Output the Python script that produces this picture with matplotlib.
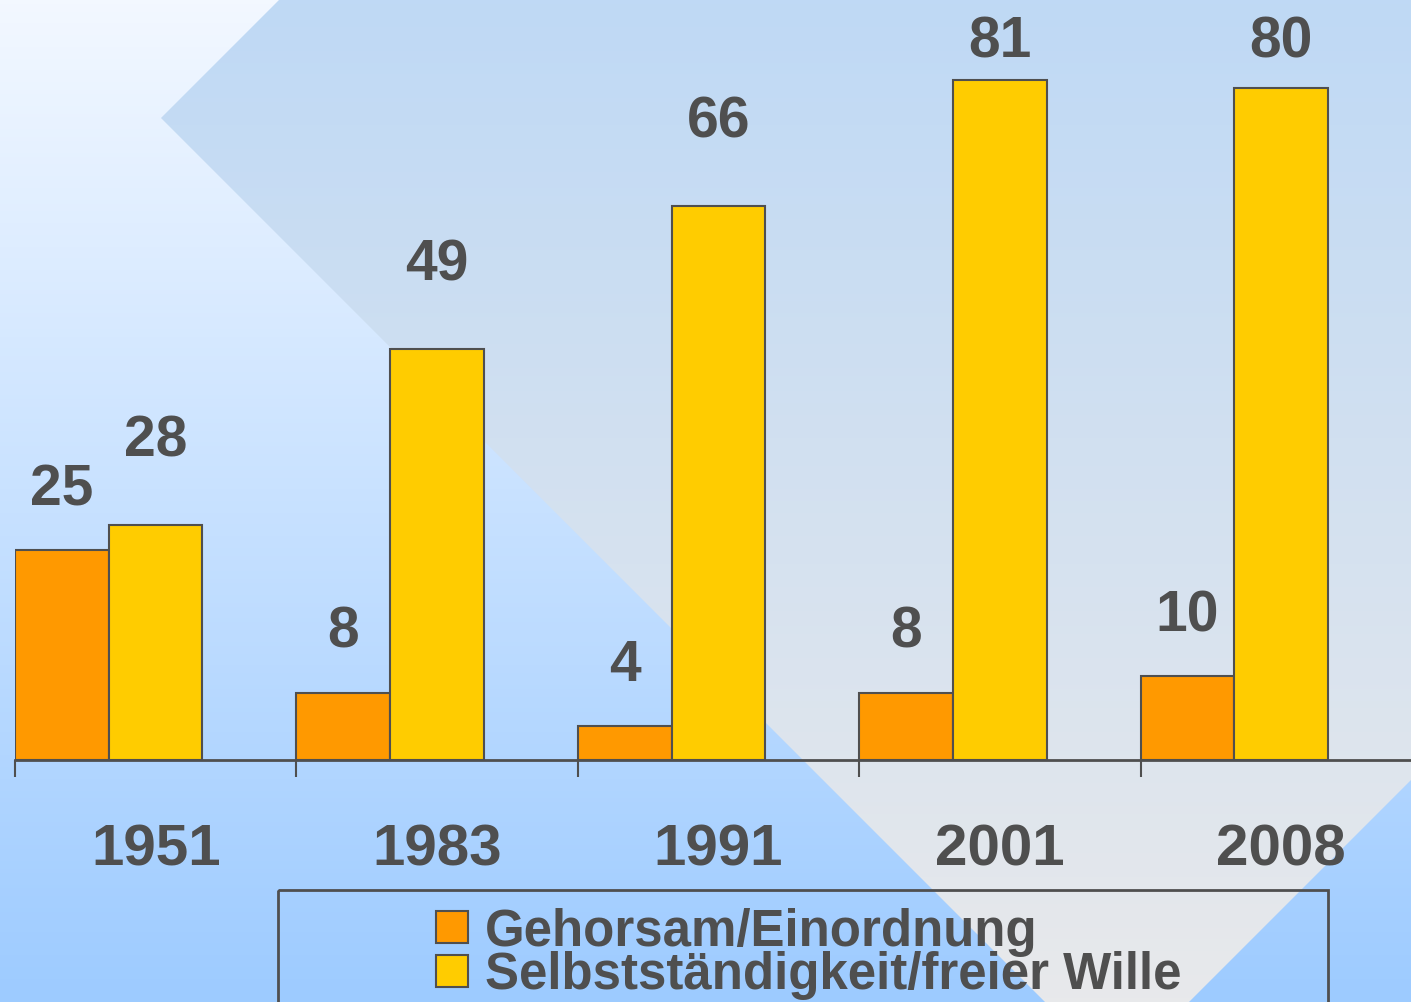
#
# Imports
#
import numpy as np
import matplotlib
matplotlib.use("Agg")
import matplotlib.pyplot as plt
from matplotlib.patches import Polygon, Rectangle

#
# Data
#
years = ["1951", "1983", "1991", "2001", "2008"]
gehorsam = [25, 8, 4, 8, 10]
selbst = [28, 49, 66, 81, 80]
series_names = ["Gehorsam/Einordnung", "Selbstständigkeit/freier Wille"]

#
# Style
#
ORANGE = "#FF9900"
YELLOW = "#FFCC00"
DARK = "#4F4F4F"
FONT = "Liberation Sans"

W, H = 1411, 1002
PX_PER_UNIT = 8.395        # pixels per percent on the value axis
CAT_PX = 281.4             # pixels per category
BASE_PX = 760              # baseline, pixels from the top


def vgrad(top, bottom, n=256):
    t = np.linspace(0.0, 1.0, n)[:, None]
    top = np.array(top) / 255.0
    bottom = np.array(bottom) / 255.0
    img = top[None, :] * (1 - t) + bottom[None, :] * t
    return img[:, None, :]


#
# Figure + background
#
fig = plt.figure(figsize=(W / 100, H / 100), dpi=100)

bg = fig.add_axes([0, 0, 1, 1])
bg.set_xlim(0, W)
bg.set_ylim(H, 0)
bg.axis("off")
bg.imshow(vgrad((243, 248, 255), (157, 203, 255)), extent=(0, W, H, 0), aspect="auto", zorder=0)

# chevron overlay
chevron = Polygon([(279, 0), (W, 0), (W, 780), (1189, H), (1045, H), (161, 118)],
                  closed=True, facecolor="none", edgecolor="none", transform=bg.transData)
bg.add_patch(chevron)
im = bg.imshow(vgrad((191, 217, 245), (232, 233, 235)), extent=(0, W, H, 0), aspect="auto", zorder=1)
im.set_clip_path(chevron)

#
# Bars
#
ax = fig.add_axes([15 / W, (H - BASE_PX) / H, 5 * CAT_PX / W, BASE_PX / H])
ax.patch.set_alpha(0)
ax.set_xlim(0, 5)
ax.set_ylim(0, BASE_PX / PX_PER_UNIT)

x = np.arange(len(years))
bw = 0.333
ax.bar(x, gehorsam, width=bw, align="edge", color=ORANGE, edgecolor=DARK, linewidth=1.5, zorder=3)
ax.bar(x + bw, selbst, width=bw, align="edge", color=YELLOW, edgecolor=DARK, linewidth=1.5, zorder=3)

for s in ["top", "left", "right"]:
    ax.spines[s].set_visible(False)
ax.spines["bottom"].set_color(DARK)
ax.spines["bottom"].set_linewidth(2)
ax.set_yticks([])
ax.set_xticks(np.arange(len(years) + 1))
ax.set_xticklabels([])
ax.tick_params(axis="x", length=12, width=1.5, color=DARK, direction="out")

# value labels
top_cap = (BASE_PX - 57) / PX_PER_UNIT
for i in range(len(years)):
    y1 = min(gehorsam[i] + 45 / PX_PER_UNIT, top_cap)
    y2 = min(selbst[i] + 68 / PX_PER_UNIT, top_cap)
    ax.text(x[i] + bw / 2, y1, str(gehorsam[i]), ha="center", va="baseline",
            fontsize=41, fontweight="bold", color=DARK, family=FONT, zorder=4)
    ax.text(x[i] + 1.5 * bw, y2, str(selbst[i]), ha="center", va="baseline",
            fontsize=41, fontweight="bold", color=DARK, family=FONT, zorder=4)

# category labels
for i, yr in enumerate(years):
    ax.text(x[i] + 0.5, -105 / PX_PER_UNIT, yr, ha="center", va="baseline",
            fontsize=42, fontweight="bold", color=DARK, family=FONT, clip_on=False)

#
# Legend (box runs off the bottom edge)
#
fg = fig.add_axes([0, 0, 1, 1])
fg.set_xlim(0, W)
fg.set_ylim(H, 0)
fg.axis("off")
fg.patch.set_alpha(0)
fg.add_patch(Rectangle((278, 890), 1050, 160, facecolor="none", edgecolor=DARK, linewidth=2))
for k, (name, col) in enumerate(zip(series_names, [ORANGE, YELLOW])):
    top = 911 + k * 44
    fg.add_patch(Rectangle((436, top), 32, 32, facecolor=col, edgecolor=DARK, linewidth=1.5))
    fg.text(485, 946 + k * 43, name, ha="left", va="baseline",
            fontsize=36.7, fontweight="bold", color=DARK, family=FONT)

fig.savefig("out.png", dpi=100)
